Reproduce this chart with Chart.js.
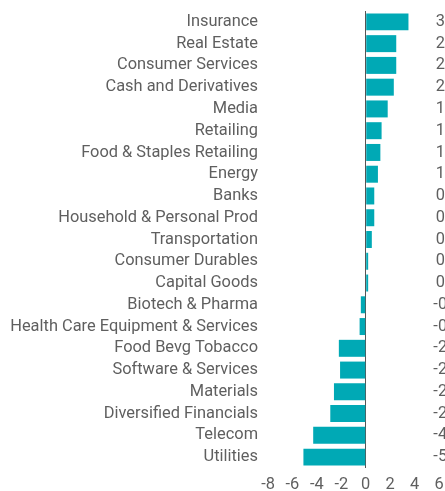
<!DOCTYPE html>
<html><head><meta charset="utf-8">
<style>html,body{margin:0;padding:0;background:#fff;}#wrap{width:445px;height:491px;}</style>
<script src="https://cdn.jsdelivr.net/npm/chart.js@4/dist/chart.umd.min.js"></script>
</head><body><div id="wrap"><canvas id="c" width="445" height="491"></canvas></div>
<script>
const categories = ["Insurance","Real Estate","Consumer Services","Cash and Derivatives","Media","Retailing","Food & Staples Retailing","Energy","Banks","Household & Personal Prod","Transportation","Consumer Durables","Capital Goods","Biotech & Pharma","Health Care Equipment & Services","Food Bevg Tobacco","Software & Services","Materials","Diversified Financials","Telecom","Utilities"];
const values = [3.5,2.5,2.5,2.3,1.8,1.3,1.2,1.0,0.7,0.7,0.5,0.2,0.2,-0.4,-0.5,-2.2,-2.1,-2.6,-2.9,-4.3,-5.1];
const xTicks = [-8,-6,-4,-2,0,2,4,6];

const FONT = "Roboto";
const FSIZE = 16.4;
const TXT = "#5f5f5f";

const valueLabels = {
  id: "valueLabels",
  afterDatasetsDraw(chart) {
    const ctx = chart.ctx;
    const meta = chart.getDatasetMeta(0);
    ctx.save();
    ctx.font = FSIZE + "px " + FONT;
    ctx.fillStyle = TXT;
    ctx.textAlign = "center";
    ctx.textBaseline = "middle";
    meta.data.forEach((bar, i) => {
      ctx.fillText(values[i].toFixed(1), 447, bar.y);
    });
    ctx.restore();
  }
};

new Chart(document.getElementById("c"), {
  type: "bar",
  data: {
    labels: categories,
    datasets: [{
      data: values,
      backgroundColor: "#00A9B5",
      borderWidth: 0,
      barPercentage: 0.78,
      categoryPercentage: 1.0
    }]
  },
  options: {
    indexAxis: "y",
    responsive: false,
    animation: false,
    devicePixelRatio: 1,
    layout: { padding: { top: 11, right: 6, left: 0, bottom: 0 } },
    plugins: { legend: { display: false }, tooltip: { enabled: false } },
    scales: {
      x: {
        min: -8, max: 6,
        afterBuildTicks(scale) { scale.ticks = xTicks.map(v => ({ value: v })); },
        afterFit(scale) { scale.height = 23; scale.paddingLeft = 0; scale.paddingRight = 0; },
        border: { display: false },
        grid: {
          drawTicks: false,
          color: (c) => c.tick && c.tick.value === 0 ? "#555555" : "rgba(0,0,0,0)",
          lineWidth: 1
        },
        ticks: { font: { family: FONT, size: FSIZE }, color: TXT, padding: 7, maxRotation: 0, autoSkip: false }
      },
      y: {
        afterFit(scale) { scale.width = 268; scale.paddingTop = 0; scale.paddingBottom = 0; },
        border: { display: false },
        grid: { display: false, drawTicks: false },
        ticks: { font: { family: FONT, size: FSIZE }, color: TXT, padding: 10, autoSkip: false }
      }
    }
  },
  plugins: [valueLabels]
});
</script></body></html>
